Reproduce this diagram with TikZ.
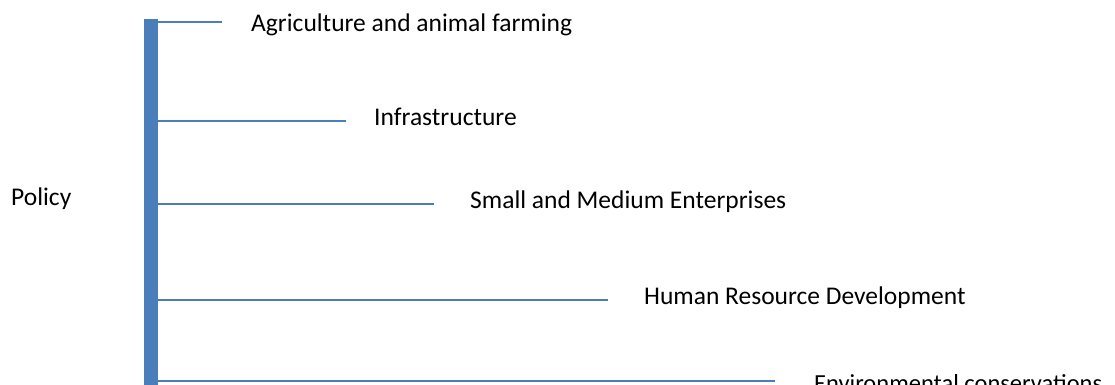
\documentclass[tikz,border=0pt]{standalone}
\usepackage{fontspec}
\setmainfont{Carlito}
\definecolor{lineblue}{HTML}{4A7EBB}
\begin{document}
\begin{tikzpicture}[x=1pt,y=-1pt,
  branch/.style={draw=lineblue,line width=2.6pt},
  lbl/.style={anchor=base west,inner sep=0pt,font=\fontsize{25.5}{30}\selectfont},
  bar/.style={fill=lineblue}]
\clip (0,0) rectangle (1115,385);
\useasboundingbox (0,0) rectangle (1115,385);
\fill[white] (0,0) rectangle (1115,385);
\path[bar] (144,19) rectangle (158,390);
\coordinate (s1) at (158,22);
\coordinate (e1) at (222,22);
\coordinate (s2) at (158,121);
\coordinate (e2) at (346,121);
\coordinate (s3) at (158,204);
\coordinate (e3) at (434,204);
\coordinate (s4) at (158,300);
\coordinate (e4) at (608,300);
\coordinate (s5) at (158,381);
\coordinate (e5) at (775,381);
\draw[branch] (s1) -- (e1);
\draw[branch] (s2) -- (e2);
\draw[branch] (s3) -- (e3);
\draw[branch] (s4) -- (e4);
\draw[branch] (s5) -- (e5);
\node[lbl] (t1) at (251,32) {Agriculture and animal farming};
\node[lbl] (t2) at (374,125) {Infrastructure};
\node[lbl] (t3) at (470,208) {Small and Medium Enterprises};
\node[lbl] (t4) at (644,304) {Human Resource Development};
\node[lbl,font=\fontsize{24.5}{30}\selectfont] (t5) at (814,391) {Environmental conservations};
\node[lbl] (p) at (11,205) {Policy};
\end{tikzpicture}
\end{document}
